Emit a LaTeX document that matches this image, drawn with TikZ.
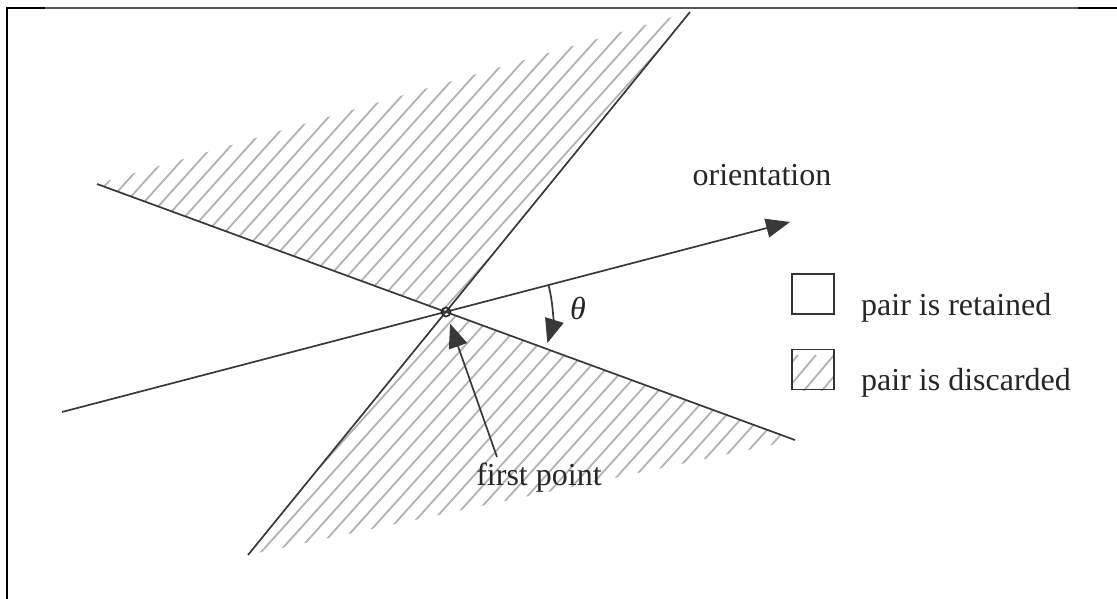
\documentclass[tikz,border=0pt]{standalone}
\usepackage{fontspec}
\setmainfont{Liberation Serif}
\usetikzlibrary{arrows.meta}
\begin{document}
\begin{tikzpicture}[x=1pt,y=-1pt,
  mainline/.style={draw=black!78,line width=1.7pt},
  hatchline/.style={draw=black!30,line width=1.8pt},
  lbl/.style={font=\fontsize{32}{37}\selectfont,inner sep=0pt,text=black!85},
  tipped/.style={-{Triangle[length=24pt,width=19pt]}},
  legbox/.style={draw=black!80,line width=1.6pt,minimum width=42pt,minimum height=40pt,inner sep=0pt},
]
\useasboundingbox (0,0) rectangle (1117,599);
% frame pieces
\draw[line width=2.5pt] (7,599) -- (7,8) -- (45,8);
\draw[black!65,line width=1.2pt] (45,8) -- (1078,8);
\draw[line width=2.5pt] (1078,8) -- (1117,8);
% key points
\coordinate (O) at (446,312);
\coordinate (L1a) at (248,555);
\coordinate (L1b) at (690,12);
\coordinate (L2a) at (97,184);
\coordinate (L2b) at (795,440);
\coordinate (Ora) at (62,412);
\coordinate (Orb) at (790,222);
\coordinate (Ubd) at (690,12);
\coordinate (Lbd) at (795,440);
% hatched regions
\begin{scope}
  \clip (L2a) -- (O) -- (Ubd) -- cycle;
  \foreach \k in {-700,-682,...,1300} \draw[hatchline] (\k,620) -- ++(558,-620);
\end{scope}
\begin{scope}
  \clip (O) -- (L1a) -- (Lbd) -- cycle;
  \foreach \k in {-700,-682,...,1300} \draw[hatchline] (\k,620) -- ++(558,-620);
\end{scope}
% lines
\draw[mainline] (L1a) -- (L1b);
\draw[mainline] (L2a) -- (L2b);
\draw[mainline,tipped] (Ora) -- (Orb);
\node[circle,draw=black!85,line width=1.6pt,minimum size=9pt,inner sep=0pt] (Oc) at (O) {};
% labels
\node[lbl] (orient) at (762,175) {orientation};
\node[lbl,font=\fontsize{32}{37}\selectfont\itshape] (th) at (578,308) {θ};
\node[lbl] (fp) at (539,478) {first point};
\coordinate (fpt) at (497,457);
\draw[mainline,tipped,shorten >=7pt] (fpt) -- (Oc);
\draw[mainline,tipped] ([shift={(O)}]-14.6:106) arc[start angle=-14.6,end angle=17,radius=106];
% legend
\node[legbox] (box1) at (813,294) {};
\node[legbox] (box2) at (813,369.5) {};
\begin{scope}
  \clip (box2.south west) rectangle (box2.north east);
  \foreach \k in {760,778,...,860} \draw[hatchline] (\k,400) -- ++(38,-45);
\end{scope}
\node[legbox] at (box2) {};
\node[lbl,anchor=base west] (t1) at (861,315) {pair is retained};
\node[lbl,anchor=base west] (t2) at (861,390) {pair is discarded};
\end{tikzpicture}
\end{document}
